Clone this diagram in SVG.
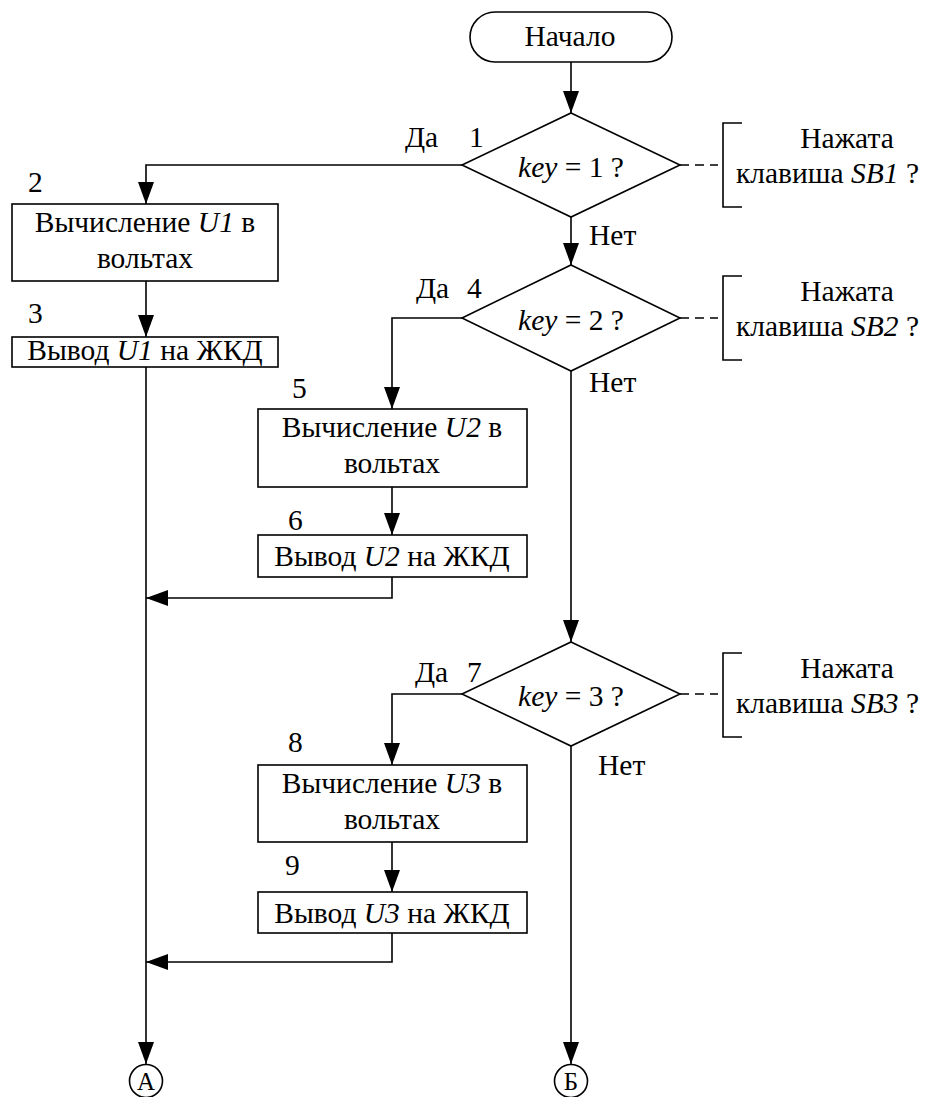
<svg xmlns="http://www.w3.org/2000/svg" width="925" height="1097" viewBox="0 0 925 1097" font-family="'Liberation Serif', 'DejaVu Serif', serif">
  <style>
    .shape { fill: #ffffff; stroke: #000000; stroke-width: 1.6; }
    .line { fill: none; stroke: #000000; stroke-width: 1.6; }
    .dash { fill: none; stroke: #000000; stroke-width: 1.6; stroke-dasharray: 9 6; }
    text { font-family: 'Liberation Serif', 'DejaVu Serif', serif; font-size: 29.5px; fill: #000000; }
    .c { text-anchor: middle; }
    .e { text-anchor: end; }
    .i { font-style: italic; }
    .small { font-size: 25px; }
  </style>
  <defs>
    <marker id="arrow" markerUnits="userSpaceOnUse" markerWidth="22" markerHeight="16" refX="22" refY="8" orient="auto">
      <path d="M0,0 L22,8 L0,16 z" fill="#000000"/>
    </marker>
  </defs>

  <rect width="925" height="1097" fill="#ffffff"/>

  <!-- connectors -->
  <g id="connectors">
    <line class="line" x1="571" y1="62" x2="571" y2="113" marker-end="url(#arrow)"/>
    <polyline class="line" points="462,165 146,165 146,204" marker-end="url(#arrow)"/>
    <line class="line" x1="146" y1="281" x2="146" y2="337" marker-end="url(#arrow)"/>
    <line class="line" x1="146" y1="367" x2="146" y2="1064" marker-end="url(#arrow)"/>
    <line class="line" x1="571" y1="217" x2="571" y2="265" marker-end="url(#arrow)"/>
    <polyline class="line" points="462,318 392,318 392,409" marker-end="url(#arrow)"/>
    <line class="line" x1="392" y1="487" x2="392" y2="535" marker-end="url(#arrow)"/>
    <polyline class="line" points="392,577 392,598 146,598" marker-end="url(#arrow)"/>
    <line class="line" x1="571" y1="371" x2="571" y2="642" marker-end="url(#arrow)"/>
    <polyline class="line" points="462,694 392,694 392,765" marker-end="url(#arrow)"/>
    <line class="line" x1="392" y1="842" x2="392" y2="892" marker-end="url(#arrow)"/>
    <polyline class="line" points="392,933 392,962 146,962" marker-end="url(#arrow)"/>
    <line class="line" x1="571" y1="746" x2="571" y2="1064" marker-end="url(#arrow)"/>
    <!-- comment links -->
    <line class="dash" x1="680" y1="165" x2="718" y2="165"/>
    <line class="dash" x1="680" y1="318" x2="718" y2="318"/>
    <line class="dash" x1="680" y1="694" x2="718" y2="694"/>
  </g>

  <!-- start terminator -->
  <g id="start">
    <rect class="shape" x="470" y="12" width="202" height="50" rx="25" ry="25"/>
    <text class="c" x="570" y="46">Начало</text>
  </g>

  <!-- decision 1 -->
  <g id="decision1">
    <polygon class="shape" points="571,113 680,165 571,217 462,165"/>
    <text class="c" x="571" y="177"><tspan class="i">key</tspan> = 1 ?</text>
    <text x="405" y="147">Да</text>
    <text x="469" y="147">1</text>
    <text x="589" y="245">Нет</text>
  </g>
  <g id="comment1">
    <polyline class="line" points="742,123 723,123 723,207 742,207"/>
    <text class="c" x="847" y="148">Нажата</text>
    <text class="e" x="919" y="183">клавиша <tspan class="i">SB1</tspan> ?</text>
  </g>

  <!-- block 2 -->
  <g id="block2">
    <rect class="shape" x="12" y="204" width="266" height="77"/>
    <text class="c" x="145" y="232">Вычисление <tspan class="i">U1</tspan> в</text>
    <text class="c" x="145" y="268">вольтах</text>
    <text x="28" y="192">2</text>
  </g>

  <!-- block 3 -->
  <g id="block3">
    <rect class="shape" x="12" y="337" width="266" height="30"/>
    <text class="c" x="145" y="360">Вывод <tspan class="i">U1</tspan> на ЖКД</text>
    <text x="28" y="323">3</text>
  </g>

  <!-- decision 4 -->
  <g id="decision4">
    <polygon class="shape" points="571,265 680,318 571,371 462,318"/>
    <text class="c" x="571" y="330"><tspan class="i">key</tspan> = 2 ?</text>
    <text x="416" y="298">Да</text>
    <text x="467" y="298">4</text>
    <text x="589" y="392">Нет</text>
  </g>
  <g id="comment4">
    <polyline class="line" points="742,276 723,276 723,360 742,360"/>
    <text class="c" x="847" y="301">Нажата</text>
    <text class="e" x="919" y="336">клавиша <tspan class="i">SB2</tspan> ?</text>
  </g>

  <!-- block 5 -->
  <g id="block5">
    <rect class="shape" x="258" y="409" width="269" height="78"/>
    <text class="c" x="392" y="437">Вычисление <tspan class="i">U2</tspan> в</text>
    <text class="c" x="392" y="473">вольтах</text>
    <text x="292" y="398">5</text>
  </g>

  <!-- block 6 -->
  <g id="block6">
    <rect class="shape" x="258" y="535" width="269" height="42"/>
    <text class="c" x="392" y="566">Вывод <tspan class="i">U2</tspan> на ЖКД</text>
    <text x="288" y="530">6</text>
  </g>

  <!-- decision 7 -->
  <g id="decision7">
    <polygon class="shape" points="571,642 680,694 571,746 462,694"/>
    <text class="c" x="571" y="706"><tspan class="i">key</tspan> = 3 ?</text>
    <text x="415" y="682">Да</text>
    <text x="467" y="682">7</text>
    <text x="598" y="775">Нет</text>
  </g>
  <g id="comment7">
    <polyline class="line" points="742,653 723,653 723,737 742,737"/>
    <text class="c" x="847" y="678">Нажата</text>
    <text class="e" x="919" y="713">клавиша <tspan class="i">SB3</tspan> ?</text>
  </g>

  <!-- block 8 -->
  <g id="block8">
    <rect class="shape" x="258" y="765" width="269" height="77"/>
    <text class="c" x="392" y="793">Вычисление <tspan class="i">U3</tspan> в</text>
    <text class="c" x="392" y="829">вольтах</text>
    <text x="288" y="752">8</text>
  </g>

  <!-- block 9 -->
  <g id="block9">
    <rect class="shape" x="258" y="892" width="269" height="41"/>
    <text class="c" x="392" y="923">Вывод <tspan class="i">U3</tspan> на ЖКД</text>
    <text x="285" y="875">9</text>
  </g>

  <!-- off-page connectors -->
  <g id="connectorA">
    <circle class="shape" cx="146" cy="1081" r="16.5"/>
    <text class="c small" x="146" y="1090">А</text>
  </g>
  <g id="connectorB">
    <circle class="shape" cx="571" cy="1081" r="16.5"/>
    <text class="c small" x="571" y="1090">Б</text>
  </g>
</svg>
